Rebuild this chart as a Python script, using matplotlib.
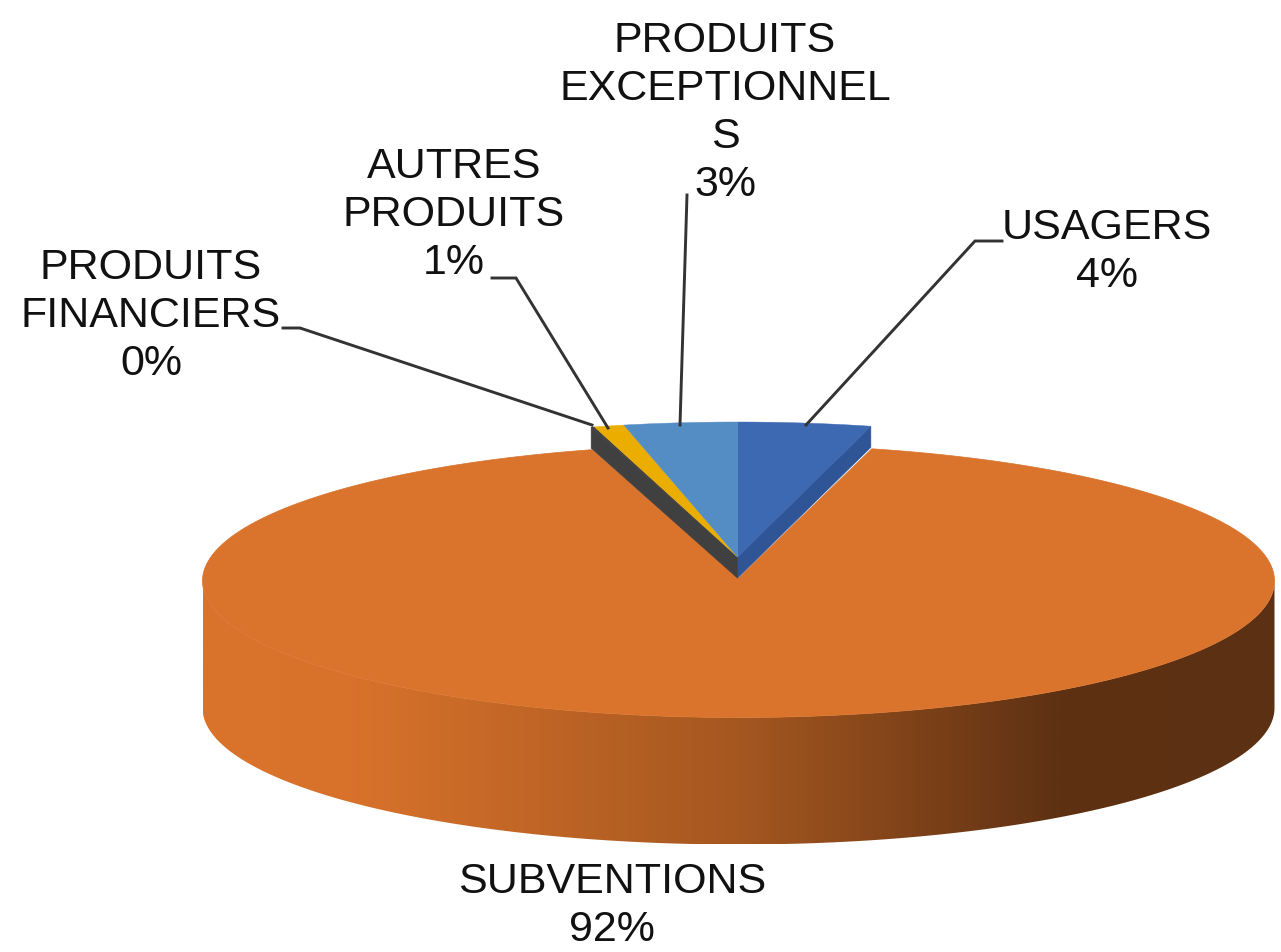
import numpy as np
import matplotlib
matplotlib.use('Agg')
import matplotlib.pyplot as plt
from matplotlib.colors import LinearSegmentedColormap
from matplotlib.patches import Polygon

plt.rcParams['font.family'] = ['Liberation Sans', 'DejaVu Sans']

# clockwise from 12 o'clock
categories = ['USAGERS', 'SUBVENTIONS', 'PRODUITS\nFINANCIERS', 'AUTRES\nPRODUITS', 'PRODUITS\nEXCEPTIONNEL\nS']
values = [4.0, 91.6, 0.1, 0.9, 3.4]
percent_labels = ['4%', '92%', '0%', '1%', '3%']
colors = ['#3D69B3', '#DA732C', '#404040', '#EBAE00', '#548DC4']

# label centres, pixels
label_pos = [(1107, 252), (612, 906), (151, 316), (454, 215), (725, 113)]
leaders = [
    [(1002, 241), (975, 241), (806, 425)],
    None,
    [(283, 328), (300, 328), (592, 425)],
    [(492, 278), (516, 278), (608, 428)],
    [(687, 195), (680, 425)],
]

# pie geometry, pixels
cx, cy = 738.5, 581
rx, ry = 536, 136.5
depth = 127
small_lift = 21      # small slices stand on a raised top
small_ry = 135

grad_stops = [(0.0, '#DA732C'), (0.14, '#D8722B'), (0.5, '#A55720'), (0.80, '#5E3113'), (1.0, '#5C3012')]


def rim(a0, a1, x0, y0, ry_, n=200):
    a = np.linspace(a0, a1, n)
    return np.column_stack([x0 + rx * np.sin(a), y0 - ry_ * np.cos(a)])


fig = plt.figure(figsize=(12.81, 9.52), dpi=100)
ax = fig.add_axes([0, 0, 1, 1])
ax.set_xlim(0, 1281)
ax.set_ylim(952, 0)
ax.axis('off')

edges = np.radians(np.cumsum([0] + values) * 3.6)
sub_a0, sub_a1 = edges[1], edges[2]

# side wall of the big slice, horizontal gradient clipped to the outline
cmap = LinearSegmentedColormap.from_list('wall', grad_stops)
front = rim(np.pi / 2, 3 * np.pi / 2, cx, cy, ry)
wall_pts = np.vstack([front, (front + [0, depth])[::-1]])
wall = Polygon(wall_pts, closed=True, facecolor='none', edgecolor='none')
ax.add_patch(wall)
img = ax.imshow(np.linspace(0, 1, 512).reshape(1, -1), cmap=cmap, aspect='auto',
                extent=[cx - rx, cx + rx, cy + ry + depth, cy - ry], zorder=1)
img.set_clip_path(wall)
ax.set_xlim(0, 1281)
ax.set_ylim(952, 0)

# top of the big slice
top_pts = np.vstack([[cx, cy - 3], rim(sub_a0, sub_a1, cx, cy, ry, 400)])
ax.add_patch(Polygon(top_pts, closed=True, facecolor=colors[1], edgecolor=colors[1], lw=0.5, zorder=2))

# small slices
x0, y0 = cx - 1, cy - 24
start_r = rim(edges[1], edges[1], x0, y0, small_ry, 1)[0]
ax.add_patch(Polygon([(x0, y0), start_r, start_r + [0, small_lift], (x0, y0 + small_lift)],
                     closed=True, facecolor='#2F5597', edgecolor='#2F5597', lw=0.5, zorder=3))
start_l = rim(edges[2], edges[2], x0, y0, small_ry, 1)[0]
ax.add_patch(Polygon([(x0, y0), start_l, start_l + [0, small_lift], (x0, y0 + small_lift)],
                     closed=True, facecolor='#404040', edgecolor='#404040', lw=0.5, zorder=3))
for i in [0, 2, 3, 4]:
    a0, a1 = edges[i], edges[i + 1]
    pts = np.vstack([[x0, y0], rim(a0, a1, x0, y0, small_ry, 40)])
    ax.add_patch(Polygon(pts, closed=True, facecolor=colors[i], edgecolor=colors[i], lw=0.3, zorder=4))

# labels and leader lines
for cat, pct, pos, lead in zip(categories, percent_labels, label_pos, leaders):
    ax.text(pos[0], pos[1], cat + '\n' + pct, ha='center', va='center', fontsize=31,
            linespacing=1.25, color='#111111', zorder=6)
    if lead is not None:
        xs, ys = zip(*lead)
        ax.plot(xs, ys, color='#333333', lw=2.1, zorder=5, solid_joinstyle='miter')

fig.savefig('out.png', dpi=100)
